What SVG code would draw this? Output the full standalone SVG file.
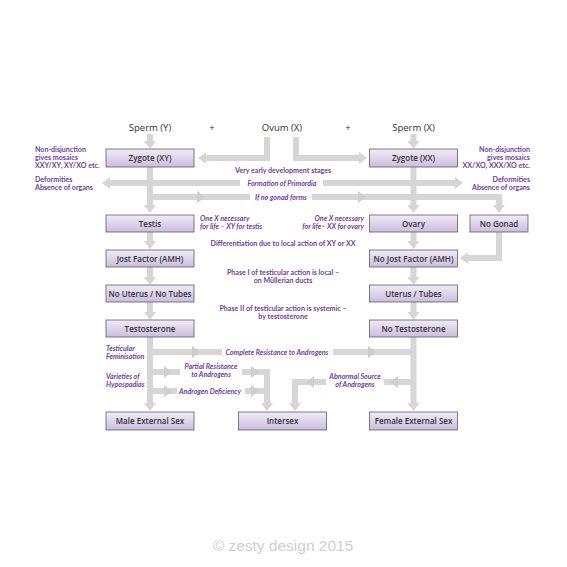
<svg xmlns="http://www.w3.org/2000/svg" xmlns:xlink="http://www.w3.org/1999/xlink" width="567" height="567" viewBox="0 0 567 567">
<style>
.box{fill:url(#bg);stroke:#5e5e5e;stroke-width:0.8}
.bt{font-family:"Open Sans","Liberation Sans",sans-serif;font-weight:600;font-size:8px;fill:#333;text-anchor:middle}
.hd{font-family:"Open Sans","Liberation Sans",sans-serif;font-size:9.5px;fill:#333;text-anchor:middle}
.pl{font-family:Lato,"Open Sans",sans-serif;font-weight:700;font-size:7.1px;fill:#6b3fa0}
.pi{font-family:Lato,"Open Sans",sans-serif;font-weight:700;font-style:italic;font-size:7.1px;fill:#6b3fa0}
.ln{fill:none;stroke:#d6d6d6;stroke-width:6}
.ar{marker-end:url(#ah)}
.mid{fill:#cfcfcf}
.c{text-anchor:middle}
.r{text-anchor:end}
</style>
<defs>
<linearGradient id="bg" x1="0" y1="0" x2="0" y2="1">
<stop offset="0" stop-color="#f1ecf6"/>
<stop offset="1" stop-color="#cbbddf"/>
</linearGradient>
<marker id="ah" markerUnits="userSpaceOnUse" viewBox="0 0 8 12" markerWidth="8" markerHeight="12" refX="0" refY="6" orient="auto">
<path d="M0,0 L8,6 L0,12 z" fill="#d6d6d6"/>
</marker>
<path id="m" d="M-4,-6 L4,0 L-4,6 z"/>
</defs>
<rect width="567" height="567" fill="#fff"/>

<g id="connectors">
<path class="ln ar" d="M150,134 V141"/>
<path class="ln ar" d="M267,137 V158 H206"/>
<path class="ln ar" d="M296,137 V158 H359"/>
<path class="ln ar" d="M413.5,134 V141"/>
<path class="ln ar" d="M150,167 V205"/>
<path class="ln ar" d="M413.5,167 V205"/>
<path class="ln ar" d="M240,183 H110"/>
<path class="ln ar" d="M323,183 H455"/>
<path class="ln" d="M150,197 H250"/>
<path class="ln ar" d="M312,197 H499 V205"/>
<use href="#m" x="201" y="197" class="mid"/>
<use href="#m" x="362" y="197" class="mid"/>
<path class="ln ar" d="M150,232 V241"/>
<path class="ln ar" d="M150,267 V277"/>
<path class="ln ar" d="M150,302 V312"/>
<path class="ln ar" d="M413.5,232 V241"/>
<path class="ln ar" d="M413.5,267 V277"/>
<path class="ln ar" d="M413.5,302 V312"/>
<path class="ln ar" d="M499,232 V258 H468"/>
<path class="ln ar" d="M150,337 V403"/>
<path class="ln ar" d="M413.5,337 V403"/>
<path class="ln" d="M150,352 H222"/>
<path class="ln" d="M333,352 H413.5"/>
<use href="#m" x="196" y="352" class="mid"/>
<use href="#m" x="372" y="352" class="mid"/>
<path class="ln" d="M150,372 H180"/>
<path class="ln ar" d="M242,372 H267 V403"/>
<path class="ln" d="M150,391 H177"/>
<path class="ln" d="M245,391 H267"/>
<use href="#m" x="168" y="372" class="mid"/>
<use href="#m" x="255" y="372" class="mid"/>
<use href="#m" x="168" y="391" class="mid"/>
<use href="#m" x="255" y="391" class="mid"/>
<path class="ln" d="M413.5,382 H384"/>
<path class="ln ar" d="M326,382 H295 V403"/>
<use href="#m" transform="translate(394,382) rotate(180)" class="mid"/>
<use href="#m" transform="translate(310,382) rotate(180)" class="mid"/>
</g>

<g id="headers">
<text class="hd" x="150" y="131">Sperm (Y)</text>
<text class="hd" x="212" y="131">+</text>
<text class="hd" x="282" y="131">Ovum (X)</text>
<text class="hd" x="348" y="131">+</text>
<text class="hd" x="413.5" y="131">Sperm (X)</text>
</g>

<g id="zygote-xy"><rect class="box" x="106" y="149" width="88" height="18"/><text class="bt" x="150" y="161">Zygote (XY)</text></g>
<g id="zygote-xx"><rect class="box" x="369.5" y="149" width="88" height="18"/><text class="bt" x="413.5" y="161">Zygote (XX)</text></g>
<g id="testis"><rect class="box" x="106" y="215" width="88" height="17"/><text class="bt" x="150" y="226.5">Testis</text></g>
<g id="ovary"><rect class="box" x="369.5" y="215" width="88" height="17"/><text class="bt" x="413.5" y="226.5">Ovary</text></g>
<g id="no-gonad"><rect class="box" x="470" y="215" width="58" height="17"/><text class="bt" x="499" y="226.5">No Gonad</text></g>
<g id="jost"><rect class="box" x="106" y="250" width="88" height="17"/><text class="bt" x="150" y="261.5">Jost Factor (AMH)</text></g>
<g id="no-jost"><rect class="box" x="369.5" y="250" width="88" height="17"/><text class="bt" x="413.5" y="261.5">No Jost Factor (AMH)</text></g>
<g id="no-uterus"><rect class="box" x="106" y="285" width="88" height="17"/><text class="bt" x="150" y="296.5">No Uterus / No Tubes</text></g>
<g id="uterus"><rect class="box" x="369.5" y="285" width="88" height="17"/><text class="bt" x="413.5" y="296.5">Uterus / Tubes</text></g>
<g id="testosterone"><rect class="box" x="106" y="320" width="88" height="17"/><text class="bt" x="150" y="331.5">Testosterone</text></g>
<g id="no-testosterone"><rect class="box" x="369.5" y="320" width="88" height="17"/><text class="bt" x="413.5" y="331.5">No Testosterone</text></g>
<g id="male"><rect class="box" x="106" y="412" width="88" height="18"/><text class="bt" x="150" y="424">Male External Sex</text></g>
<g id="intersex"><rect class="box" x="238.5" y="412" width="88" height="18"/><text class="bt" x="282.5" y="424">Intersex</text></g>
<g id="female"><rect class="box" x="369.5" y="412" width="88" height="18"/><text class="bt" x="413.5" y="424">Female External Sex</text></g>

<g id="labels">
<text class="pl" x="35" y="152">Non-disjunction</text>
<text class="pl" x="35" y="160">gives mosaics</text>
<text class="pl" x="35" y="168">XXY/XY, XY/XO etc.</text>
<text class="pl" x="35" y="182">Deformities</text>
<text class="pl" x="35" y="190">Absence of organs</text>
<text class="pl r" x="530" y="152">Non-disjunction</text>
<text class="pl r" x="530" y="160">gives mosaics</text>
<text class="pl r" x="530" y="168">XX/XO, XXX/XO etc.</text>
<text class="pl r" x="530" y="182">Deformities</text>
<text class="pl r" x="530" y="190">Absence of organs</text>
<text class="pl c" x="283" y="173">Very early development stages</text>
<text class="pi c" x="282" y="185.5">Formation of Primordia</text>
<text class="pi c" x="281" y="199.5">If no gonad forms</text>
<text class="pi" x="200" y="220.5">One X necessary</text>
<text class="pi" x="200" y="228.5">for life – XY for testis</text>
<text class="pi r" x="364" y="220.5">One X necessary</text>
<text class="pi r" x="364" y="228.5">for life– XX for ovary</text>
<text class="pl c" x="283" y="246">Differentiation due to local action of XY or XX</text>
<text class="pl c" x="283" y="275">Phase I of testicular action is local –</text>
<text class="pl c" x="283" y="283">on Müllerian ducts</text>
<text class="pl c" x="283" y="311">Phase II of testicular action is systemic –</text>
<text class="pl c" x="283" y="319">by testosterone</text>
<text class="pi" x="106" y="351">Testicular</text>
<text class="pi" x="106" y="359">Feminisation</text>
<text class="pi" x="106" y="379">Varieties of</text>
<text class="pi" x="106" y="387">Hypospadias</text>
<text class="pi c" x="277" y="354.5">Complete Resistance to Androgens</text>
<text class="pi c" x="211" y="368.5">Partial Resistance</text>
<text class="pi c" x="211" y="376.5">to Androgens</text>
<text class="pi c" x="210" y="393.5">Androgen Deficiency</text>
<text class="pi c" x="355" y="378.5">Abnormal Source</text>
<text class="pi c" x="355" y="386.5">of Androgens</text>
</g>

<text x="283" y="551" text-anchor="middle" font-family="Liberation Sans, Arial, sans-serif" font-size="15.5" fill="#cfcfcf">© zesty design 2015</text>
</svg>
